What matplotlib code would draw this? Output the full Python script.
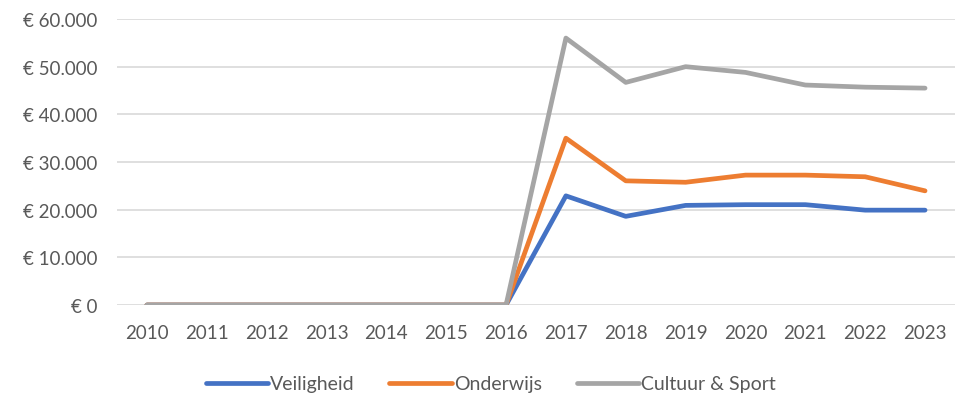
import matplotlib
matplotlib.use("Agg")
import matplotlib.pyplot as plt
from matplotlib.ticker import FuncFormatter

years = [str(y) for y in range(2010, 2024)]
veiligheid = [0, 0, 0, 0, 0, 0, 0, 22900, 18600, 20900, 21050, 21050, 19900, 19900]
onderwijs = [0, 0, 0, 0, 0, 0, 0, 35000, 26050, 25750, 27250, 27250, 26900, 23950]
cultuur_sport = [0, 0, 0, 0, 0, 0, 0, 56000, 46700, 50000, 48800, 46150, 45700, 45500]
series_names = ["Veiligheid", "Onderwijs", "Cultuur & Sport"]
colors = ["#4472C4", "#ED7D31", "#A5A5A5"]

plt.rcParams['font.family'] = ['Lato', 'DejaVu Sans']

fig = plt.figure(figsize=(9.62, 4.06), dpi=100)
ax = fig.add_axes([0.1216, 0.2463, 0.8711, 0.7044])

x = list(range(len(years)))
for vals, name, c in zip([veiligheid, onderwijs, cultuur_sport], series_names, colors):
    ax.plot(x, vals, color=c, lw=3.4, label=name, solid_capstyle='round', solid_joinstyle='round')

ax.set_xlim(-0.5, len(years) - 0.5)
ax.set_ylim(0, 60000)
ax.set_yticks(range(0, 60001, 10000))
def fmt(v, p):
    v = int(round(v))
    if v == 0:
        return "€ 0"
    return "€ " + f"{v:,}".replace(",", ".")
ax.yaxis.set_major_formatter(FuncFormatter(fmt))
ax.set_xticks(x)
ax.set_xticklabels(years)
ax.grid(axis='y', color='#D9D9D9', lw=1.2)
ax.set_axisbelow(True)
for s in ax.spines.values():
    s.set_visible(False)
ax.tick_params(axis='both', length=0, labelsize=13.5, colors='#595959')
ax.tick_params(axis='x', pad=14)
ax.tick_params(axis='y', pad=14)

leg = fig.legend(loc='center', bbox_to_anchor=(0.51, 0.052), ncol=3, frameon=False,
                 fontsize=14, handlelength=3.2, columnspacing=1.8, handletextpad=0.1)
for t in leg.get_texts():
    t.set_color('#595959')

fig.savefig("out.png", dpi=100)
